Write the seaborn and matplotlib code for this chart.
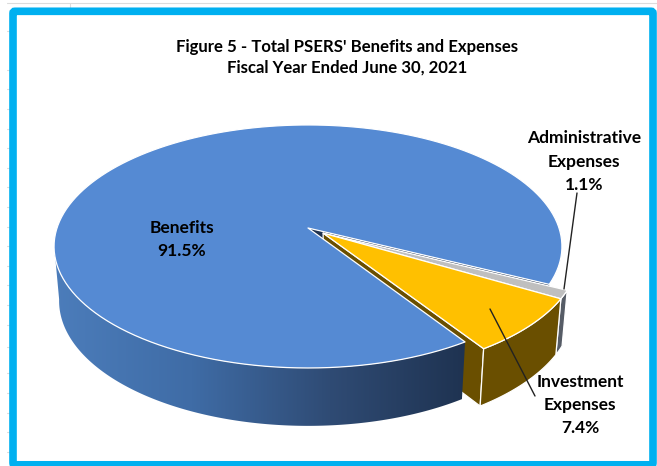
import numpy as np
import matplotlib
matplotlib.use("Agg")
import matplotlib.pyplot as plt
from matplotlib.patches import FancyBboxPatch, Polygon
import seaborn as sns

# Share of total benefits and expenses, percent
categories = ["Benefits", "Investment\nExpenses", "Administrative\nExpenses"]
shares = [91.5, 7.4, 1.1]
title_lines = ["Figure 5 - Total PSERS' Benefits and Expenses",
               "Fiscal Year Ended June 30, 2021"]

sns.set_theme(style="white")
plt.rcParams["font.family"] = ["Lato", "DejaVu Sans"]

BLUE, GOLD, GRAY = "#558ad3", "#ffc000", "#bfbfbf"
GOLD_WALL, GRAY_WALL = "#6a4f00", "#565c66"
FRAME = "#00b0f0"
FAINT = "#dcdcdc"
wall_ramp = sns.blend_palette(["#4c7dbb", "#3f6ca6", "#2f4b74", "#1e3250"], as_cmap=True)

fig = plt.figure(figsize=(6.57, 4.66), dpi=100)
ax = fig.add_axes([0, 0, 1, 1])

CX, CY = 308, 228
A, B, K = 251, 118.7, 0.152      # top disc projection
A2, B2, CY2 = 246, 122, 282      # bottom disc projection
START = -26.3                    # clockwise sweep begins at the administrative slice
EXPLODE = (0.06, -0.043)


def project(x, y, bottom=False):
    """Perspective view of a point on the unit disc, in figure pixels."""
    x, y = np.asarray(x, float), np.asarray(y, float)
    w = 1 + K * y
    if bottom:
        return CX + A2 * x / w, CY2 - B2 * y / w
    return CX + A * x / w, CY - B * y / w


def arc(t0, t1, off=(0, 0), bottom=False, n=160):
    t = np.radians(np.linspace(t0, t1, n))
    px, py = project(np.cos(t) + off[0], np.sin(t) + off[1], bottom)
    return np.column_stack([px, py])


def point(angle=None, off=(0, 0), bottom=False):
    if angle is None:
        return np.array(project(off[0], off[1], bottom)).reshape(1, 2)
    return arc(angle, angle, off, bottom, n=1)


def wall(t0, t1, off=(0, 0)):
    return np.vstack([arc(t0, t1, off), arc(t1, t0, off, bottom=True)])


def radial_wall(angle, off=(0, 0)):
    return np.vstack([point(None, off), point(angle, off),
                      point(angle, off, True), point(None, off, True)])


def shape(pts, color, edge="white", lw=0.9, z=1):
    ax.add_patch(Polygon(pts, closed=True, facecolor=color, edgecolor=edge,
                         linewidth=lw, joinstyle="round", zorder=z))


def ramp_fill(pts, z):
    patch = Polygon(pts, closed=True, facecolor="none", edgecolor="none", zorder=z)
    ax.add_patch(patch)
    grad = np.linspace(0, 1, 256).reshape(1, -1)
    im = ax.imshow(grad, extent=[52, 470, 466, 0], cmap=wall_ramp, aspect="auto",
                   zorder=z, interpolation="bilinear")
    im.set_clip_path(patch)


# Slice angles, clockwise from the start angle
sweep = [s * 3.6 for s in shares]
admin_end = START - sweep[2]
invest_end = admin_end - sweep[1]

# Walls behind the pie body
ramp_fill(wall(START, 12), 1)
shape(radial_wall(START), "#1e3250", edge="none", lw=0, z=2)
shape(radial_wall(invest_end, EXPLODE), GOLD_WALL, z=3)

# Pie body: outer wall then top face
ramp_fill(wall(invest_end, -172), 4)
shape(np.vstack([point(), arc(START, invest_end + 360)]), BLUE, z=5)

# Exploded slices
shape(wall(START, admin_end, EXPLODE), GRAY_WALL, z=6)
shape(wall(admin_end, invest_end, EXPLODE), GOLD_WALL, z=6)
shape(np.vstack([point(None, EXPLODE), arc(START, admin_end, EXPLODE)]), GRAY, z=7)
shape(np.vstack([point(None, EXPLODE), arc(admin_end, invest_end, EXPLODE)]), GOLD, z=7)

# Leader lines
ax.plot([577, 564], [193, 289], color="#222222", lw=1.0, zorder=8)
ax.plot([490, 535], [309, 396], color="#222222", lw=1.0, zorder=8)

# Spreadsheet cell remnants around the frame
ax.plot([7, 657], [3, 3], color=FAINT, lw=0.8, zorder=0)
ax.plot([70, 70], [3, 8], color=FAINT, lw=0.8, zorder=0)
for row in [31, 70, 89, 109, 129, 148, 168, 187, 207, 227, 246, 266, 285, 305,
            325, 347, 373, 393, 413, 432, 452]:
    ax.plot([7, 10], [row, row], color=FAINT, lw=0.8, zorder=0)

# Chart frame
ax.add_patch(FancyBboxPatch((13, 11.3), 640, 453.5, boxstyle="round,pad=0,rounding_size=2",
                            facecolor="none", edgecolor=FRAME, linewidth=5.5, zorder=9))

# Text
text_style = dict(ha="center", va="center", color="black", fontweight="bold", zorder=10)
ax.text(347, 47, title_lines[0], fontsize=12.1, **text_style)
ax.text(347, 68, title_lines[1], fontsize=12.1, **text_style)
ax.text(182, 239.5, f"{categories[0]}\n{shares[0]}%", fontsize=12.5, linespacing=1.56, **text_style)
ax.text(580, 405, f"{categories[1]}\n{shares[1]}%", fontsize=12.5, linespacing=1.56, **text_style)
ax.text(584, 161.5, f"{categories[2]}\n{shares[2]}%", fontsize=12.5, linespacing=1.56, **text_style)

ax.set_xlim(0, 657)
ax.set_ylim(466, 0)
ax.axis("off")
fig.savefig("out.png", dpi=100, facecolor="white")
